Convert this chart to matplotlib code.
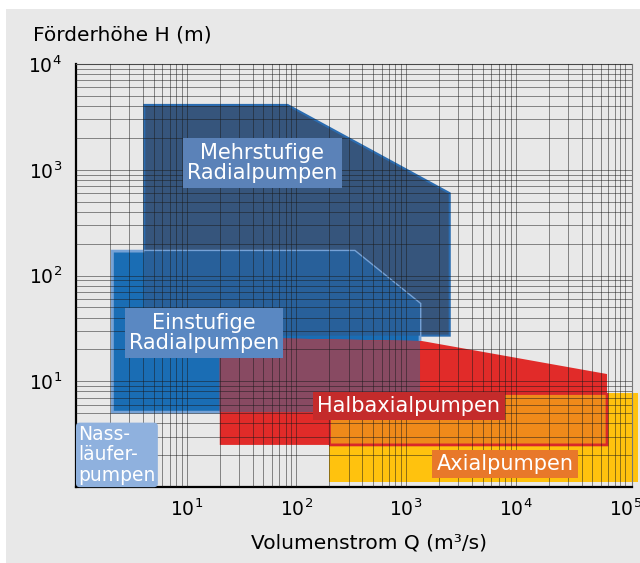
import numpy as np
import matplotlib
matplotlib.use("Agg")
import matplotlib.pyplot as plt
from matplotlib.patches import Polygon, Rectangle
from matplotlib.ticker import LogLocator, NullFormatter, FixedLocator

# pump ranges (Q in m3/s, H in m), polygon corners
navy_q = [4.1, 83, 2500, 2500, 4.1]
navy_h = [4100, 4100, 600, 27, 27]
blue_q = [2.1, 340, 1340, 1340, 2.1]
blue_h = [170, 170, 54, 5.1, 5.1]
red_q = [20, 1400, 68000, 68000, 20]
red_h = [26, 24, 11.7, 2.5, 2.5]
yellow_q = [200, 130000, 130000, 200]
yellow_h = [7.7, 7.7, 1.12, 1.12]

labels = ["Mehrstufige\nRadialpumpen", "Einstufige\nRadialpumpen", "Halbaxialpumpen", "Axialpumpen"]
label_q = [49, 14.3, 1060, 8000]
label_h = [1160, 28.6, 5.8, 1.65]
label_colors = ["#5b82b8", "#5a88c2", "#c42b2b", "#e8782a"]

x_ticks = [10, 100, 1000, 10000, 100000]
x_ticklabels = ["$10^1$", "$10^2$", "$10^3$", "$10^4$", "$10^5$"]
y_ticks = [10, 100, 1000, 10000]
y_ticklabels = ["$10^1$", "$10^2$", "$10^3$", "$10^4$"]

GRAY = "#e8e8e8"
plt.rcParams['font.family'] = ['DejaVu Sans']
plt.rcParams['mathtext.fontset'] = 'dejavusans'

fig = plt.figure(figsize=(6.4, 5.63), dpi=100)
fig.patch.set_facecolor("white")
fig.patches.append(Rectangle((6/640, 0), 1, 1 - 9/563, transform=fig.transFigure,
                             facecolor=GRAY, edgecolor="none", zorder=-5))
ax = fig.add_axes([76/640, 76/563, 556/640, 423/563])
ax.set_facecolor(GRAY)
ax.set_xscale("log")
ax.set_yscale("log")
ax.set_xlim(10**-0.01, 10**5.06)
ax.set_ylim(1, 1e4)


def poly(q, h, **kw):
    return Polygon(np.column_stack([q, h]), closed=True, **kw)


navy = ax.add_patch(poly(navy_q, navy_h, fc="#36557c", ec="#2b6cb0", lw=1.5, zorder=1))
blue = ax.add_patch(poly(blue_q, blue_h, fc="#1a6db4", ec="#76a2d6", lw=2, zorder=1.1))
ov = ax.add_patch(poly(blue_q, blue_h, fc="#28609a", ec="none", zorder=1.2))
ov.set_clip_path(navy)

red = ax.add_patch(poly(red_q, red_h, fc="#e12b29", ec="none", zorder=1.3))
mauve = ax.add_patch(poly(red_q, red_h, fc="#884a62", ec="none", zorder=1.4))
mauve.set_clip_path(blue)

yellow = ax.add_patch(poly(yellow_q, yellow_h, fc="#ffc20e", ec="none", zorder=1.5))
yellow.set_clip_on(False)
orange = ax.add_patch(poly(yellow_q, yellow_h, fc="#ef8a1a", ec="#d8282a", lw=2, zorder=1.6))
orange.set_clip_path(red)
frame = ax.add_patch(poly(red_q, red_h, fc="none", ec="#d8282a", lw=2, zorder=1.7))
frame.set_clip_path(yellow)

# grid on top of the areas
ax.set_axisbelow(False)
ax.xaxis.set_minor_locator(LogLocator(base=10, subs=np.arange(2, 10), numticks=20))
ax.yaxis.set_minor_locator(LogLocator(base=10, subs=np.arange(2, 10), numticks=20))
ax.xaxis.set_minor_formatter(NullFormatter())
ax.yaxis.set_minor_formatter(NullFormatter())
ax.grid(True, which="both", color="#1a1a1a", alpha=0.5, lw=0.7)

ax.xaxis.set_major_locator(FixedLocator(x_ticks))
ax.set_xticklabels(x_ticklabels)
ax.yaxis.set_major_locator(FixedLocator(y_ticks))
ax.set_yticklabels(y_ticklabels)
ax.tick_params(which="both", length=0)
ax.tick_params(axis="x", pad=8, labelsize=13.5)
ax.tick_params(axis="y", pad=10, labelsize=13.5)

for s in ["left", "bottom"]:
    ax.spines[s].set_color("black")
    ax.spines[s].set_linewidth(1.6)
for s in ["top", "right"]:
    ax.spines[s].set_color("#777777")
    ax.spines[s].set_linewidth(0.8)

for txt, q, h, c in zip(labels, label_q, label_h, label_colors):
    ax.text(q, h, txt, color="white", fontsize=15, ha="center", va="center",
            linespacing=1.05, zorder=5,
            bbox=dict(boxstyle="square,pad=0.2", fc=c, ec="none"))

ax.text(0.004, 0.005, "Nass-\nläufer-\npumpen", transform=ax.transAxes, color="white",
        fontsize=13.5, ha="left", va="bottom", linespacing=1.1, zorder=5,
        bbox=dict(boxstyle="round,pad=0.12,rounding_size=0.2", fc="#8fb1de", ec="none"))

fig.text(33/640, 1 - 35/563, "Förderhöhe H (m)", fontsize=14.5, ha="left", va="center")
fig.text(369/640, 1 - 543/563, "Volumenstrom Q (m³/s)", fontsize=14.5, ha="center", va="center")

fig.savefig("out.png", dpi=100)
